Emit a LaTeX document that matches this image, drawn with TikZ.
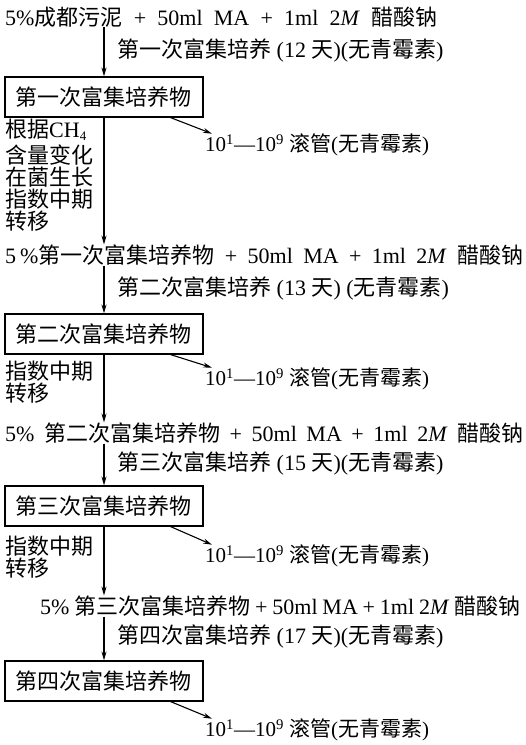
\documentclass[tikz,border=0pt]{standalone}
\usepackage{fontspec}
\setmainfont{Liberation Serif}
\newfontfamily\cjk{Noto Sans CJK SC}
\newcommand\zh[1]{{\cjk #1}}
\usetikzlibrary{arrows.meta}
\begin{document}
\begin{tikzpicture}[x=1pt,y=-1pt,
  every node/.style={inner sep=0pt, font=\fontsize{22}{22}\selectfont},
  txt/.style={anchor=west},
  tube/.style={anchor=west, font=\fontsize{21}{22}\selectfont},
  side/.style={anchor=north west, align=left},
  box/.style={draw, line width=1.2pt, minimum width=198pt, minimum height=40pt},
  arr/.style={-{Stealth[length=9pt,width=5pt]}, line width=1.1pt}]
\useasboundingbox (0,0) rectangle (526,745);
\node[txt] (L1) at (5,17) {\makebox[432pt][s]{5\%\zh{成都污泥} + 50ml MA + 1ml 2\textit{M} \zh{醋酸钠}}};
\node[txt] (A1) at (117,50) {\zh{第一次富集培养} (12 \zh{天})(\zh{无青霉素})};
\node[box] (B1) at (104,97) {\zh{第一次富集培养物}};
\node[tube] (D1) at (205,145) {10\textsuperscript{1}—10\textsuperscript{9} \zh{滚管}(\zh{无青霉素})};
\node[side] (N0) at (5,119) {\zh{根据}CH\raisebox{-3pt}{\fontsize{13}{13}\selectfont 4}};
\node[side] (N1) at (5,145) {\zh{含量变化}\\ \zh{在菌生长}\\ \zh{指数中期}\\ \zh{转移}};
\node[txt] (L2) at (5,255) {\makebox[518pt][s]{5\kern4pt\%\zh{第一次富集培养物} + 50ml MA + 1ml 2\textit{M} \zh{醋酸钠}}};
\node[txt] (A2) at (117,288) {\zh{第二次富集培养} (13 \zh{天}) (\zh{无青霉素})};
\node[box] (B2) at (104,334) {\zh{第二次富集培养物}};
\node[tube] (D2) at (205,379) {10\textsuperscript{1}—10\textsuperscript{9} \zh{滚管}(\zh{无青霉素})};
\node[side] (N2) at (5,361) {\zh{指数中期}\\ \zh{转移}};
\node[txt] (L3) at (5,433) {\makebox[518pt][s]{5\% \zh{第二次富集培养物} + 50ml MA + 1ml 2\textit{M} \zh{醋酸钠}}};
\node[txt] (A3) at (117,463) {\zh{第三次富集培养} (15 \zh{天})(\zh{无青霉素})};
\node[box] (B3) at (104,506) {\zh{第三次富集培养物}};
\node[tube] (D3) at (205,556) {10\textsuperscript{1}—10\textsuperscript{9} \zh{滚管}(\zh{无青霉素})};
\node[side] (N3) at (5,536) {\zh{指数中期}\\ \zh{转移}};
\node[txt] (L4) at (40,606) {\makebox[480pt][s]{5\% \zh{第三次富集培养物} + 50ml MA + 1ml 2\textit{M} \zh{醋酸钠}}};
\node[txt] (A4) at (117,636) {\zh{第四次富集培养} (17 \zh{天})(\zh{无青霉素})};
\node[box] (B4) at (104,681) {\zh{第四次富集培养物}};
\node[tube] (D4) at (205,730) {10\textsuperscript{1}—10\textsuperscript{9} \zh{滚管}(\zh{无青霉素})};
\draw[arr] (L1.south -| B1.north) -- (B1.north);
\draw[arr] (B1.south) -- (L2.north -| B1.south);
\draw[arr] ([xshift=-33pt]B1.south east) -- ([xshift=7pt]D1.north west);
\draw[arr] (L2.south -| B2.north) -- (B2.north);
\draw[arr] (B2.south) -- (L3.north -| B2.south);
\draw[arr] ([xshift=-33pt]B2.south east) -- ([xshift=7pt]D2.north west);
\draw[arr] (L3.south -| B3.north) -- (B3.north);
\draw[arr] (B3.south) -- (L4.north -| B3.south);
\draw[arr] ([xshift=-33pt]B3.south east) -- ([xshift=7pt]D3.north west);
\draw[arr] (L4.south -| B4.north) -- (B4.north);
\draw[arr] ([xshift=-33pt]B4.south east) -- ([xshift=7pt]D4.north west);
\end{tikzpicture}
\end{document}
